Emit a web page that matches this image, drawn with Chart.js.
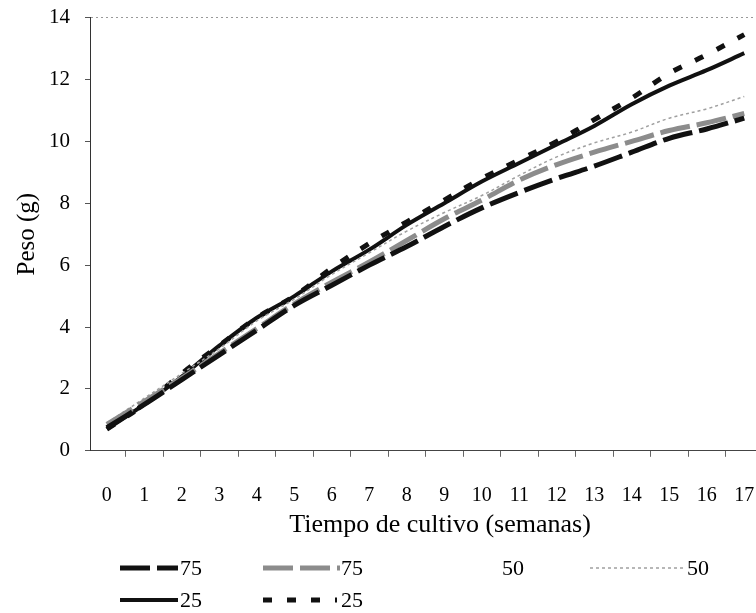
<!DOCTYPE html>
<html>
<head>
<meta charset="utf-8">
<script src="https://cdn.jsdelivr.net/npm/chart.js@4.4.1/dist/chart.umd.min.js"></script>
<style>
  html, body { margin: 0; padding: 0; background: #fff; overflow: hidden; }
  #wrap { width: 790px; height: 623px; margin-top: -10px; }
</style>
</head>
<body>
<div id="wrap"><canvas id="myChart"></canvas></div>
<script>
// semanas de cultivo
const weeks = [0, 1, 2, 3, 4, 5, 6, 7, 8, 9, 10, 11, 12, 13, 14, 15, 16, 17];

// peso (g) por tratamiento
const peso75a = [0.75, 1.5, 2.3, 3.1, 3.9, 4.7, 5.35, 6.0, 6.6, 7.25, 7.85, 8.35, 8.8, 9.2, 9.65, 10.1, 10.4, 10.75];
const peso75b = [0.85, 1.6, 2.35, 3.15, 3.95, 4.75, 5.45, 6.1, 6.8, 7.5, 8.1, 8.75, 9.25, 9.65, 10.0, 10.35, 10.6, 10.9];
const peso50a = [0.8, 1.6, 2.4, 3.2, 4.0, 4.8, 5.5, 6.2, 6.9, 7.5, 8.1, 8.6, 9.1, 9.6, 10.0, 10.4, 10.8, 11.1];
const peso50b = [0.9, 1.7, 2.5, 3.3, 4.2, 4.9, 5.7, 6.4, 7.1, 7.7, 8.25, 8.9, 9.5, 9.95, 10.3, 10.75, 11.05, 11.45];
const peso25a = [0.7, 1.5, 2.4, 3.4, 4.3, 5.0, 5.8, 6.5, 7.3, 8.0, 8.7, 9.3, 9.9, 10.5, 11.2, 11.8, 12.3, 12.85];
const peso25b = [0.7, 1.5, 2.5, 3.4, 4.3, 5.0, 5.9, 6.7, 7.4, 8.1, 8.8, 9.4, 10.0, 10.7, 11.4, 12.2, 12.8, 13.45];

const seriesLabels = ['75', '75', '50', '50', '25', '25'];
const yTicks = [0, 2, 4, 6, 8, 10, 12, 14];

const serif = '"Liberation Serif", "Times New Roman", serif';

function pts(values) {
  return values.map((v, i) => ({x: weeks[i], y: v}));
}

// where each legend entry sits (canvas coords, two rows under the plot)
const legendSpots = [
  {x: 120, y: 578, w: 58, tx: 180},
  {x: 263, y: 578, w: 77, tx: 341},
  {x: 445, y: 578, w: 55, tx: 502},
  {x: 590, y: 578, w: 96, tx: 687},
  {x: 120, y: 610, w: 58, tx: 180},
  {x: 263, y: 610, w: 74, tx: 341}
];

const bottomLegend = {
  id: 'bottomLegend',
  afterDraw(chart) {
    const ctx = chart.ctx;
    chart.data.datasets.forEach((ds, i) => {
      const s = legendSpots[i];
      ctx.save();
      ctx.strokeStyle = ds.borderColor;
      ctx.lineWidth = ds.borderWidth;
      ctx.setLineDash(ds.borderDash || []);
      ctx.beginPath();
      ctx.moveTo(s.x, s.y);
      ctx.lineTo(s.x + s.w, s.y);
      ctx.stroke();
      ctx.setLineDash([]);
      ctx.fillStyle = '#000';
      ctx.font = '22px ' + serif;
      ctx.textBaseline = 'middle';
      ctx.textAlign = 'left';
      ctx.fillText(ds.label, s.tx, s.y + 1);
      ctx.restore();
    });
  }
};

function graph() {
  const config = {
    type: 'line',
    data: {
      datasets: [
        {label: seriesLabels[0], data: pts(peso75a), borderColor: '#111', borderWidth: 5, borderDash: [30, 7]},
        {label: seriesLabels[1], data: pts(peso75b), borderColor: '#8c8c8c', borderWidth: 5, borderDash: [30, 7]},
        {label: seriesLabels[2], data: pts(peso50a), borderColor: 'rgba(255,255,255,0)', borderWidth: 2},
        {label: seriesLabels[3], data: pts(peso50b), borderColor: '#a0a0a0', borderWidth: 1.5, borderDash: [3, 3]},
        {label: seriesLabels[4], data: pts(peso25a), borderColor: '#111', borderWidth: 4},
        {label: seriesLabels[5], data: pts(peso25b), borderColor: '#111', borderWidth: 5, borderDash: [9, 15]}
      ]
    },
    options: {
      responsive: true,
      maintainAspectRatio: false,
      animation: false,
      elements: {
        point: {radius: 0},
        line: {tension: 0.35, fill: false}
      },
      layout: {padding: {left: 10, top: 7, right: 0, bottom: 72}},
      plugins: {
        legend: {display: false},
        tooltip: {enabled: false}
      },
      scales: {
        x: {
          type: 'linear',
          min: -0.45,
          max: 18.22,
          afterBuildTicks: axis => {
            axis.ticks = weeks.map(w => ({value: w})).concat(weeks.map(w => ({value: w + 0.5})));
            axis.ticks.sort((a, b) => a.value - b.value);
          },
          border: {display: true, color: '#444', width: 1},
          grid: {
            drawOnChartArea: false,
            tickLength: 6,
            tickColor: c => (c.tick && !Number.isInteger(c.tick.value)) ? '#666' : 'rgba(0,0,0,0)'
          },
          ticks: {
            autoSkip: false,
            maxRotation: 0,
            padding: 27,
            color: '#000',
            font: {family: serif, size: 20},
            callback: v => Number.isInteger(v) ? String(v) : ''
          },
          title: {
            display: true,
            text: 'Tiempo de cultivo (semanas)',
            color: '#000',
            font: {family: serif, size: 26},
            padding: {top: -25, bottom: 0}
          }
        },
        y: {
          min: 0,
          max: 14,
          afterBuildTicks: axis => {
            axis.ticks = yTicks.map(v => ({value: v}));
          },
          border: {display: true, color: '#333', width: 1, dash: [2, 3]},
          grid: {
            color: c => (c.tick && c.tick.value === 14) ? '#999' : 'rgba(0,0,0,0)',
            lineWidth: 1,
            tickLength: 5,
            tickColor: '#555'
          },
          ticks: {
            padding: 15,
            color: '#000',
            font: {family: serif, size: 21}
          },
          title: {
            display: true,
            text: 'Peso (g)',
            color: '#000',
            font: {family: serif, size: 25},
            padding: {top: 2, bottom: -8}
          }
        }
      }
    },
    plugins: [bottomLegend]
  };
  const wrapper = document.querySelector('#myChart');
  const myChart = new Chart(wrapper, config);
}

graph();
</script>
</body>
</html>
